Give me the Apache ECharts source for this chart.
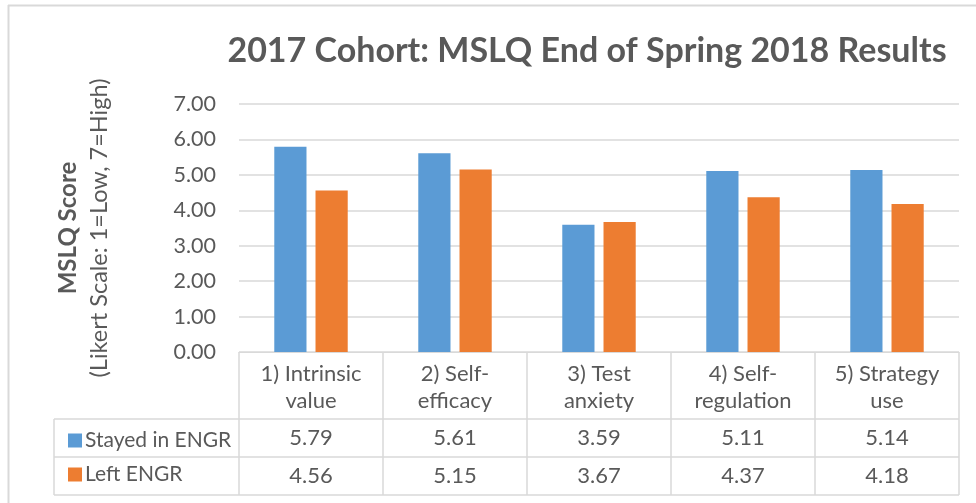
<!DOCTYPE html>
<html>
<head>
<meta charset="utf-8">
<script src="https://cdn.jsdelivr.net/npm/echarts@6/dist/echarts.min.js"></script>
<style>
  html, body { margin: 0; padding: 0; background: #fff; }
  #chart { width: 976px; height: 503px; }
</style>
</head>
<body>
<div id="chart"></div>
<script>
var categories = ['1) Intrinsic\nvalue', '2) Self-\nefficacy', '3) Test\nanxiety', '4) Self-\nregulation', '5) Strategy\nuse']
var stayed = [5.79, 5.61, 3.59, 5.11, 5.14]
var left = [4.56, 5.15, 3.67, 4.37, 4.18]
var seriesNames = ['Stayed in ENGR', 'Left ENGR']
var yTicks = [0, 1, 2, 3, 4, 5, 6, 7]

var FONT = 'Lato, "Open Sans", sans-serif'
var TXT = '#595959'
var GRID_LINE = '#d9d9d9'

var chart = echarts.init(document.getElementById('chart'))

// grid box: x 239..959, y 104..352
var gLeft = 239, gRight = 959, gTop = 104, gBottom = 352
var rowLines = [419, 457, 495]

function tableAxis(offset, values) {
  return {
    type: 'category',
    data: categories,
    position: 'bottom',
    offset: offset,
    axisLine: { show: false },
    axisTick: { show: false },
    axisLabel: {
      interval: 0,
      margin: 8,
      color: TXT,
      fontFamily: FONT,
      fontSize: 22,
      formatter: function (v, i) { return values[i].toFixed(2) }
    }
  }
}

chart.setOption({
  animation: false,
  title: {
    text: '2017 Cohort: MSLQ End of Spring 2018 Results',
    left: 582,
    textAlign: 'center',
    top: 29,
    textStyle: { color: TXT, fontFamily: FONT, fontSize: 34, fontWeight: 'bold' }
  },
  legend: {
    data: seriesNames,
    orient: 'vertical',
    left: 63,
    top: 425,
    itemWidth: 14,
    itemHeight: 14,
    itemGap: 13,
    icon: 'rect',
    textStyle: { color: TXT, fontFamily: FONT, fontSize: 21, padding: [0, 0, 0, -2] }
  },
  grid: { left: gLeft, right: 976 - gRight, top: gTop, bottom: 503 - gBottom },
  xAxis: [
    {
      type: 'category',
      data: categories,
      axisLine: { show: true, lineStyle: { color: GRID_LINE, width: 1 } },
      axisTick: { show: true, length: 143, lineStyle: { color: GRID_LINE, width: 1.5 } },
      axisLabel: {
        interval: 0,
        margin: 8,
        color: TXT,
        fontFamily: FONT,
        fontSize: 22,
        lineHeight: 27
      }
    },
    tableAxis(67, stayed),
    tableAxis(105, left)
  ],
  yAxis: {
    type: 'value',
    min: yTicks[0],
    max: yTicks[yTicks.length - 1],
    interval: 1,
    axisLine: { show: false },
    axisTick: { show: false },
    splitLine: { lineStyle: { color: GRID_LINE, width: 1.5 } },
    axisLabel: {
      margin: 23,
      color: TXT,
      fontFamily: FONT,
      fontSize: 21.5,
      formatter: function (v) { return v.toFixed(2) }
    },
    name: '{b|MSLQ Score}\n{n|(Likert Scale: 1=Low, 7=High)}',
    nameLocation: 'middle',
    nameRotate: 90,
    nameGap: 124,
    nameTextStyle: {
      rich: {
        b: { fontFamily: FONT, fontSize: 24, fontWeight: 'bold', color: TXT, lineHeight: 30 },
        n: { fontFamily: FONT, fontSize: 23.5, color: TXT, lineHeight: 32 }
      }
    }
  },
  series: [
    {
      name: seriesNames[0],
      type: 'bar',
      data: stayed,
      barGap: '28%',
      barCategoryGap: '49%',
      itemStyle: { color: '#5B9BD5' }
    },
    {
      name: seriesNames[1],
      type: 'bar',
      data: left,
      itemStyle: { color: '#ED7D31' }
    }
  ],
  graphic: [
    // outer chart frame (left and top edges visible)
    { type: 'line', shape: { x1: 8.5, y1: 5, x2: 8.5, y2: 503 }, style: { stroke: GRID_LINE, lineWidth: 2 } },
    { type: 'line', shape: { x1: 8, y1: 5.5, x2: 976, y2: 5.5 }, style: { stroke: GRID_LINE, lineWidth: 2 } },
    // data table rows
    { type: 'line', shape: { x1: 54, y1: rowLines[0], x2: gRight, y2: rowLines[0] }, style: { stroke: GRID_LINE, lineWidth: 1.5 } },
    { type: 'line', shape: { x1: 54, y1: rowLines[1], x2: gRight, y2: rowLines[1] }, style: { stroke: GRID_LINE, lineWidth: 1.5 } },
    { type: 'line', shape: { x1: 54, y1: rowLines[2], x2: gRight, y2: rowLines[2] }, style: { stroke: GRID_LINE, lineWidth: 1.5 } },
    { type: 'line', shape: { x1: 54, y1: rowLines[0], x2: 54, y2: rowLines[2] }, style: { stroke: GRID_LINE, lineWidth: 1.5 } }
  ]
})
</script>
</body>
</html>
